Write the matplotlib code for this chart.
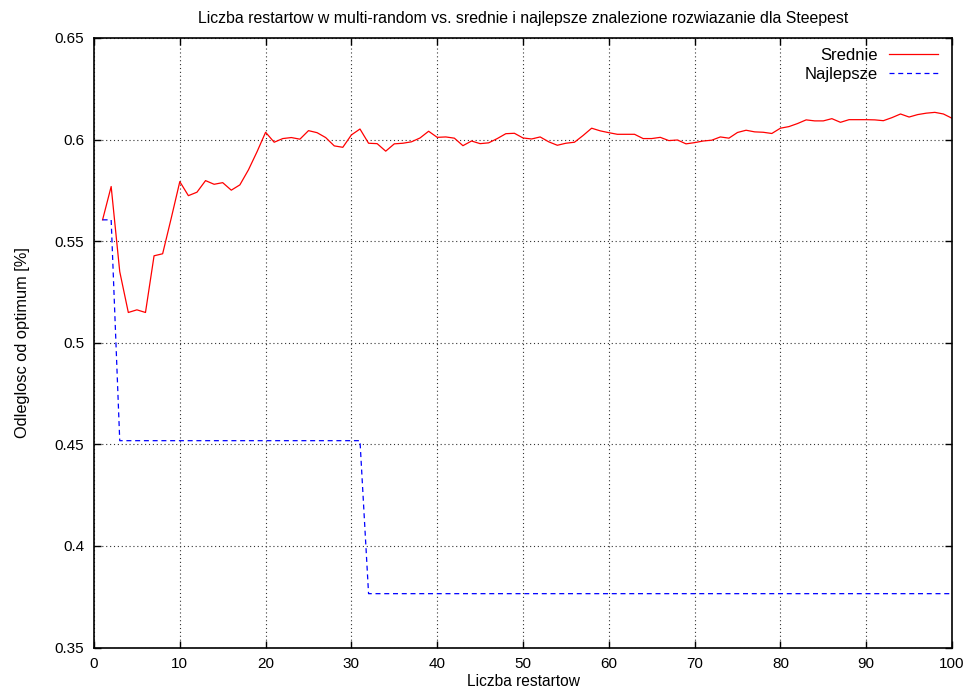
import matplotlib
matplotlib.use("Agg")
import matplotlib.pyplot as plt
import numpy as np

plt.rcParams['font.family'] = ['Liberation Sans', 'DejaVu Sans']

restarts = list(range(1, 101))
srednie = [
    0.5605, 0.5769, 0.5350, 0.5149, 0.5162, 0.5149, 0.5428, 0.5438, 0.5613, 0.5793,
    0.5724, 0.5741, 0.5798, 0.5780, 0.5788, 0.5751, 0.5777, 0.5851, 0.5940, 0.6036,
    0.5987, 0.6005, 0.6010, 0.6002, 0.6044, 0.6034, 0.6010, 0.5969, 0.5962, 0.6023,
    0.6052, 0.5982, 0.5980, 0.5943, 0.5979, 0.5982, 0.5989, 0.6008, 0.6041, 0.6011,
    0.6013, 0.6007, 0.5970, 0.5993, 0.5980, 0.5984, 0.6005, 0.6029, 0.6031, 0.6008,
    0.6003, 0.6013, 0.5989, 0.5972, 0.5982, 0.5987, 0.6020, 0.6056, 0.6043, 0.6034,
    0.6026, 0.6026, 0.6026, 0.6005, 0.6005, 0.6011, 0.5995, 0.5998, 0.5979, 0.5985,
    0.5993, 0.5997, 0.6013, 0.6007, 0.6035, 0.6046, 0.6038, 0.6036, 0.6030, 0.6056,
    0.6064, 0.6079, 0.6097, 0.6092, 0.6092, 0.6103, 0.6085, 0.6098, 0.6098, 0.6098,
    0.6097, 0.6093, 0.6108, 0.6126, 0.6111, 0.6123, 0.6130, 0.6134, 0.6126, 0.6105,
]
najlepsze = [0.5605, 0.5605] + [0.4518] * 29 + [0.3765] * 69

xticks = [0, 10, 20, 30, 40, 50, 60, 70, 80, 90, 100]
yticks = [0.35, 0.4, 0.45, 0.5, 0.55, 0.6, 0.65]
ytick_labels = ['0.35', '0.4', '0.45', '0.5', '0.55', '0.6', '0.65']

fig = plt.figure(figsize=(9.71, 6.91), dpi=100)
ax = fig.add_axes([94/971, 1 - 647.5/691, (952-94)/971, (647.5-38)/691])

ax.plot(restarts, srednie, color='#ff0000', lw=0.9, label='Srednie')
ax.plot(restarts, najlepsze, color='#0000ff', lw=0.9, ls=(0, (4, 3)), label='Najlepsze')

ax.set_xlim(0, 100)
ax.set_ylim(0.35, 0.65)
ax.set_xticks(xticks)
ax.set_yticks(yticks)
ax.set_yticklabels(ytick_labels)
ax.grid(True, color='#333333', ls=(0, (1, 2.5)), lw=0.8)
ax.tick_params(direction='in', top=True, right=True, length=5, width=1, labelsize=11, pad=7)
for s in ax.spines.values():
    s.set_linewidth(1.2)

ax.set_xlabel('Liczba restartow', fontsize=11.2, labelpad=2)
ax.set_ylabel('Odleglosc od optimum [%]', fontsize=11.8, labelpad=18)
ax.set_title('Liczba restartow w multi-random vs. srednie i najlepsze znalezione rozwiazanie dla Steepest',
             fontsize=11.4, pad=11)

leg = ax.legend(loc='upper right', frameon=False, fontsize=12, markerfirst=False,
                handlelength=2.9, handletextpad=0.7, labelspacing=0.25,
                borderaxespad=0.2, bbox_to_anchor=(0.995, 1.0))

fig.savefig('out.png', dpi=100)
